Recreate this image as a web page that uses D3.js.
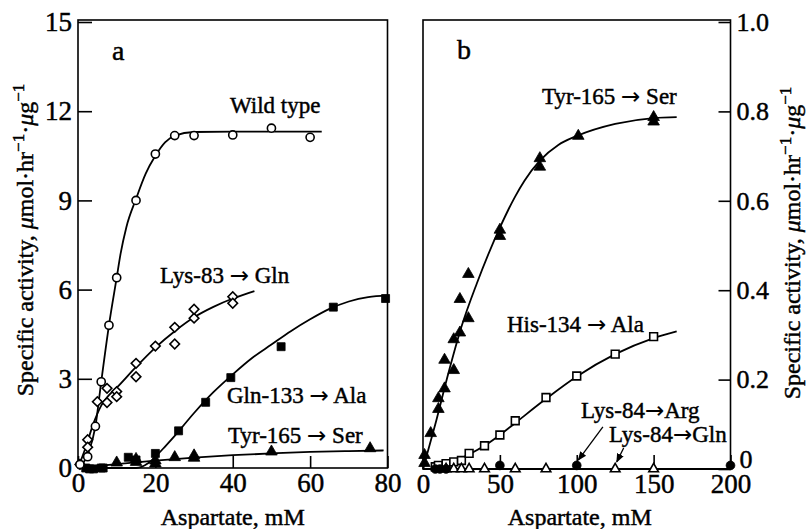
<!DOCTYPE html>
<html>
<head>
<meta charset="utf-8">
<script src="https://cdn.jsdelivr.net/npm/d3@7"></script>
<style>
  body { margin: 0; background: #fff; }
  svg text { font-family: "Liberation Serif", "Times New Roman", serif; font-weight: normal; fill: #000; stroke: #000; stroke-width: 0.45px; }
  svg tspan.arr { font-family: "DejaVu Sans", sans-serif; stroke-width: 0.1px; }
</style>
</head>
<body>
<div id="viz"></div>
<script>
// ---- panel a (specific activity, 0-15) ----
const wildX = [0.5, 2.5, 4.5, 6, 8, 10, 15, 20, 25, 30, 40, 50, 60];
const wildY = [0.12, 0.38, 1.4, 2.9, 4.8, 6.4, 9.0, 10.56, 11.18, 11.18, 11.2, 11.43, 11.12];
const wildFitX = [0, 2.5, 4.5, 6, 8, 10, 11, 12.5, 15, 17.5, 20, 22.5, 25, 30, 40, 63];
const wildFitY = [0, 0.45, 1.4, 2.9, 4.8, 6.4, 7.2, 8.1, 9.05, 9.9, 10.5, 10.95, 11.18, 11.3, 11.31, 11.31];

const lys83X = [0.5, 2.5, 2.5, 5, 7.5, 7.5, 10, 10, 15, 15, 20, 25, 25, 30, 30, 40, 40];
const lys83Y = [0.12, 0.95, 0.7, 2.23, 2.68, 2.2, 2.57, 2.4, 3.52, 3.07, 4.1, 4.73, 4.17, 5.04, 5.34, 5.76, 5.54];
const lys83FitX = [0, 2, 4, 6, 8, 10, 15, 20, 25, 30, 35, 40, 45.6];
const lys83FitY = [0, 0.7, 1.5, 2.1, 2.45, 2.7, 3.4, 4.05, 4.6, 5.07, 5.42, 5.7, 5.95];

const gln133X = [2, 3, 4, 6, 6.5, 13, 15, 20, 26, 33, 39.5, 52.5, 66, 79.5];
const gln133Y = [0, -0.03, -0.03, 0, 0, 0.36, 0.27, 0.49, 1.25, 2.21, 3.04, 4.08, 5.41, 5.7];
const gln133FitX = [0, 15, 18, 20, 22.5, 25, 30, 35, 40, 45, 50, 55, 60, 65, 70, 75, 80];
const gln133FitY = [0, 0, 0.15, 0.38, 0.72, 1.08, 1.85, 2.55, 3.15, 3.7, 4.15, 4.6, 5.0, 5.35, 5.6, 5.75, 5.8];

const tyrAX = [10, 15, 15, 20, 20, 25, 30, 30, 50, 75.5];
const tyrAY = [0.18, 0.3, 0.2, 0.25, 0.15, 0.36, 0.42, 0.34, 0.55, 0.66];
const tyrAFitX = [0, 10, 20, 30, 40, 50, 60, 70, 79];
const tyrAFitY = [0, 0.13, 0.25, 0.35, 0.43, 0.49, 0.54, 0.57, 0.59];

const aTicksX = [0, 20, 40, 60, 80];
const aTicksY = [0, 3, 6, 9, 12, 15];

// ---- panel b (specific activity, 0-1.0) ----
const tyrBX = [1, 1, 5, 10, 10, 14, 14, 20, 20, 24, 24, 29.5, 29.5, 50, 50, 76, 76, 101, 150, 150];
const tyrBY = [0.031, 0.013, 0.08, 0.158, 0.134, 0.244, 0.18, 0.29, 0.221, 0.38, 0.305, 0.436, 0.337, 0.535, 0.521, 0.695, 0.676, 0.745, 0.787, 0.777];
const tyrBFitX = [0, 8, 16.5, 25, 35, 50, 60, 66, 76, 88, 100, 125, 150, 165];
const tyrBFitY = [0, 0.1, 0.214, 0.318, 0.415, 0.54, 0.61, 0.645, 0.69, 0.725, 0.745, 0.772, 0.785, 0.787];

const his134X = [8, 10, 15, 20, 25, 30, 40, 50, 60, 80, 100, 125, 150];
const his134Y = [0.005, 0.008, 0.012, 0.016, 0.019, 0.035, 0.052, 0.076, 0.108, 0.16, 0.208, 0.257, 0.296];
const his134FitX = [5, 10, 20, 30, 40, 50, 60, 80, 100, 125, 150, 165];
const his134FitY = [0, 0.007, 0.017, 0.033, 0.052, 0.076, 0.103, 0.157, 0.207, 0.257, 0.293, 0.308];

const argX = [8, 11, 15, 50, 100, 200];
const argY = [0, 0, 0, 0.008, 0.008, 0.008];
const glnBX = [15, 20, 25, 30, 40, 60, 80, 125, 150];
const glnBY = [0, 0, 0, 0, 0, 0, 0, 0, 0];
const lys84FitX = [0, 200];
const lys84FitY = [0, 0];

const bTicksX = [0, 50, 100, 150, 200];
const bTicksY = [0, 0.2, 0.4, 0.6, 0.8, 1.0];

document.addEventListener("DOMContentLoaded", () => {
  const width = 806;
  const height = 529;

  const svg = d3.select("#viz")
    .append("svg")
    .attr("width", width)
    .attr("height", height);

  const top = 20, base = 468;

  const xa = d3.scaleLinear().domain([0, 80]).range([78, 387.5]);
  const ya = d3.scaleLinear().domain([0, 15]).range([base, 22]);
  const xb = d3.scaleLinear().domain([0, 200]).range([423, 730.5]);
  const yb = d3.scaleLinear().domain([0, 1]).range([base + 1, 22]);

  const line = (x, y) => d3.line()
    .x(d => x(d[0]))
    .y(d => y(d[1]))
    .curve(d3.curveMonotoneX);

  const zip = (xs, ys) => xs.map((v, i) => [v, ys[i]]);

  function fit(x, y, xs, ys) {
    svg.append("path")
      .attr("d", line(x, y)(zip(xs, ys)))
      .attr("fill", "none")
      .attr("stroke", "#000")
      .attr("stroke-width", 1.8);
  }

  function points(x, y, xs, ys, kind) {
    const g = svg.append("g");
    const pts = zip(xs, ys);
    let sym, size, rot = 0, filled = false;
    if (kind === "circle") { sym = d3.symbolCircle; size = 52; }
    if (kind === "dot") { sym = d3.symbolCircle; size = 60; filled = true; }
    if (kind === "diamond") { sym = d3.symbolSquare; size = 46; rot = 45; }
    if (kind === "square") { sym = d3.symbolSquare; size = 64; filled = true; }
    if (kind === "osquare") { sym = d3.symbolSquare; size = 60; }
    if (kind === "triangle") { sym = d3.symbolTriangle; size = 58; filled = true; }
    if (kind === "otriangle") { sym = d3.symbolTriangle; size = 40; }
    g.selectAll("path")
      .data(pts)
      .enter()
      .append("path")
      .attr("d", d3.symbol(sym, size))
      .attr("transform", d => `translate(${x(d[0])},${y(d[1])}) rotate(${rot})`)
      .attr("fill", filled ? "#000" : "#fff")
      .attr("stroke", "#000")
      .attr("stroke-width", filled ? 0.8 : 1.6);
  }

  // curve labels: the arrow glyph comes from DejaVu Sans, it is longer there
  function label(x, y, txt, size, anchor) {
    const t = svg.append("text")
      .attr("x", x)
      .attr("y", y)
      .attr("font-size", size)
      .attr("text-anchor", anchor || "start");
    txt.split(/(\u2192)/).forEach(part => {
      if (part === "\u2192") t.append("tspan").attr("class", "arr").text(part);
      else if (part) t.append("tspan").text(part);
    });
  }

  // ---- frames ----
  svg.append("rect")
    .attr("x", xa(0)).attr("y", top)
    .attr("width", xa(80) - xa(0)).attr("height", base - top)
    .attr("fill", "none").attr("stroke", "#000").attr("stroke-width", 1.6);
  svg.append("rect")
    .attr("x", xb(0)).attr("y", top)
    .attr("width", xb(200) - xb(0)).attr("height", base + 1 - top)
    .attr("fill", "none").attr("stroke", "#000").attr("stroke-width", 1.6);

  // ---- axes ----
  const styleAxis = (g, fs) => {
    g.select(".domain").remove();
    g.selectAll("line").attr("stroke", "#000").attr("stroke-width", 1.6);
    g.selectAll("text").attr("font-size", fs).attr("font-family", null);
  };

  svg.append("g")
    .attr("transform", `translate(${xa(0)},0)`)
    .call(d3.axisLeft(ya).tickValues(aTicksY).tickSize(-14).tickPadding(6).tickFormat(d3.format("d")))
    .call(g => styleAxis(g, 27));

  svg.append("g")
    .attr("transform", `translate(0,${base})`)
    .call(d3.axisBottom(xa).tickValues(aTicksX).tickSize(-12).tickPadding(5).tickFormat(d3.format("d")))
    .call(g => styleAxis(g, 27));

  svg.append("g")
    .attr("transform", `translate(${xb(200)},0)`)
    .call(d3.axisRight(yb).tickValues(bTicksY).tickSize(-12).tickPadding(6)
      .tickFormat(d => d === 0 ? "0" : d.toFixed(1)))
    .call(g => styleAxis(g, 26))
    .call(g => g.selectAll(".tick text").filter(d => d === 0).attr("dy", "-0.05em").attr("x", 9));

  svg.append("g")
    .attr("transform", `translate(0,${base + 1})`)
    .call(d3.axisBottom(xb).tickValues(bTicksX).tickSize(-14).tickPadding(5).tickFormat(d3.format("d")))
    .call(g => styleAxis(g, 27));

  // ---- axis titles ----
  label((xa(0) + xa(80)) / 2, 525, "Aspartate, mM", 24, "middle");
  label((xb(0) + xb(200)) / 2 + 3, 525, "Aspartate, mM", 24, "middle");

  function yTitle(cx, cy) {
    const t = svg.append("text")
      .attr("transform", `translate(${cx},${cy}) rotate(-90)`)
      .attr("text-anchor", "middle")
      .attr("font-size", 24);
    t.append("tspan").text("Specific activity, ");
    t.append("tspan").attr("font-style", "italic").text("\u03bc");
    t.append("tspan").text("mol\u00b7hr");
    t.append("tspan").attr("font-size", 17).attr("dy", -9).text("\u22121");
    t.append("tspan").attr("dy", 9).text("\u00b7");
    t.append("tspan").attr("font-style", "italic").text("\u03bc");
    t.append("tspan").text("g");
    t.append("tspan").attr("font-size", 17).attr("dy", -9).text("\u22121");
  }
  yTitle(33, 240);
  yTitle(800, 243);

  // ---- panel a data ----
  fit(xa, ya, wildFitX, wildFitY);
  fit(xa, ya, lys83FitX, lys83FitY);
  fit(xa, ya, gln133FitX, gln133FitY);
  fit(xa, ya, tyrAFitX, tyrAFitY);
  points(xa, ya, gln133X, gln133Y, "square");
  points(xa, ya, tyrAX, tyrAY, "triangle");
  points(xa, ya, lys83X, lys83Y, "diamond");
  points(xa, ya, wildX, wildY, "circle");

  label(112, 60, "a", 28);
  label(230, 113, "Wild type", 23);
  label(160, 283, "Lys-83 \u2192 Gln", 23);
  label(227, 403, "Gln-133 \u2192 Ala", 23);
  label(228, 443, "Tyr-165 \u2192 Ser", 23);

  // ---- panel b data ----
  fit(xb, yb, tyrBFitX, tyrBFitY);
  fit(xb, yb, his134FitX, his134FitY);
  fit(xb, yb, lys84FitX, lys84FitY);
  points(xb, yb, his134X, his134Y, "osquare");
  points(xb, yb, glnBX, glnBY, "otriangle");
  points(xb, yb, argX, argY, "dot");
  points(xb, yb, tyrBX, tyrBY, "triangle");

  label(457, 59, "b", 28);
  label(542, 104, "Tyr-165 \u2192 Ser", 23);
  label(507, 332, "His-134 \u2192 Ala", 23);
  label(581, 418, "Lys-84\u2192Arg", 23);
  label(609, 442, "Lys-84\u2192Gln", 23);

  // pointer arrows for the Lys-84 curves
  svg.append("defs").append("marker")
    .attr("id", "head")
    .attr("viewBox", "0 0 10 10")
    .attr("refX", 9).attr("refY", 5)
    .attr("markerWidth", 7).attr("markerHeight", 7)
    .attr("orient", "auto")
    .append("path")
    .attr("d", "M0,1 L10,5 L0,9 Z")
    .attr("fill", "#000");

  const arrows = [
    { from: [117, 0.094], to: [101, 0.02] },
    { from: [130.5, 0.047], to: [126, 0.016] }
  ];
  svg.selectAll("line.arrow")
    .data(arrows)
    .enter()
    .append("line")
    .attr("class", "arrow")
    .attr("x1", d => xb(d.from[0])).attr("y1", d => yb(d.from[1]))
    .attr("x2", d => xb(d.to[0])).attr("y2", d => yb(d.to[1]))
    .attr("stroke", "#000")
    .attr("stroke-width", 1.3)
    .attr("marker-end", "url(#head)");
});
</script>
</body>
</html>
